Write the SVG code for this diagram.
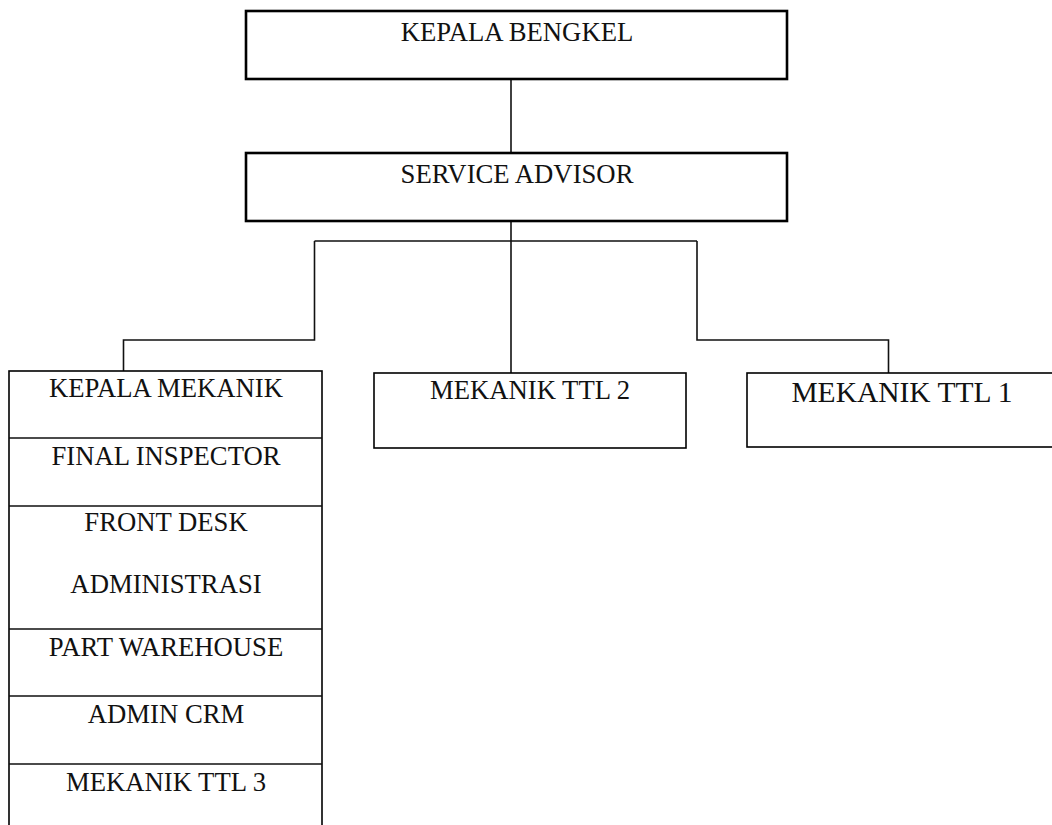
<svg xmlns="http://www.w3.org/2000/svg" width="1052" height="825" viewBox="0 0 1052 825">
<style>
  .box{fill:#fff;stroke:#000;stroke-width:1.6}
  .boxb{fill:#fff;stroke:#000;stroke-width:2.6}
  .conn{fill:none;stroke:#111;stroke-width:1.6}
  text{font-family:"Liberation Serif","Times New Roman",serif;fill:#111;text-anchor:middle;font-size:26.7px}
</style>
<rect width="1052" height="825" fill="#fff"/>
<g id="connectors">
  <path class="conn" d="M511 79 V153"/>
  <path class="conn" d="M511 221 V373"/>
  <path class="conn" d="M314.5 241 H697 M314.5 241 V340 H123.5 V371"/>
  <path class="conn" d="M697 241 V340 H888.5 V373"/>
</g>
<g id="kepala-bengkel">
  <rect class="boxb" x="246" y="11" width="541" height="68"/>
  <text x="517" y="40.5">KEPALA BENGKEL</text>
</g>
<g id="service-advisor">
  <rect class="boxb" x="246" y="153" width="541" height="68"/>
  <text x="517" y="182.5">SERVICE ADVISOR</text>
</g>
<g id="left-column">
  <rect class="box" x="9" y="371" width="313" height="470"/>
  <path class="conn" d="M9 438 H322 M9 506 H322 M9 629 H322 M9 696 H322 M9 764 H322" stroke="#000"/>
  <text x="166" y="397">KEPALA MEKANIK</text>
  <text x="166" y="465">FINAL INSPECTOR</text>
  <text x="166" y="531">FRONT DESK</text>
  <text x="166" y="593">ADMINISTRASI</text>
  <text x="166" y="656">PART WAREHOUSE</text>
  <text x="166" y="723">ADMIN CRM</text>
  <text x="166" y="791">MEKANIK TTL 3</text>
</g>
<g id="mekanik-ttl-2">
  <rect class="box" x="374" y="373" width="312" height="75"/>
  <text x="530" y="399">MEKANIK TTL 2</text>
</g>
<g id="mekanik-ttl-1">
  <rect class="box" x="747" y="373" width="312" height="74"/>
  <text x="902" y="401.5" style="font-size:29.5px">MEKANIK TTL 1</text>
</g>
</svg>
